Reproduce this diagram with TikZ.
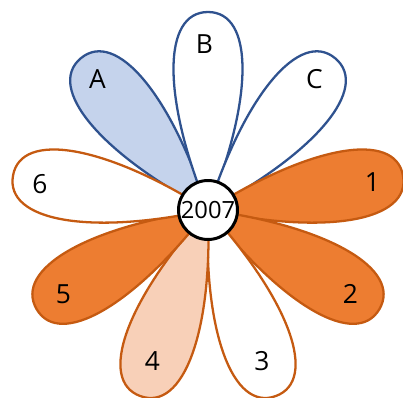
\documentclass[tikz,border=0pt]{standalone}
\usepackage{fontspec}
\setmainfont{Open Sans}
\usetikzlibrary{positioning}
\definecolor{blueline}{HTML}{2F528F}
\definecolor{bluefill}{HTML}{C5D3EC}
\definecolor{orangeline}{HTML}{C55A11}
\definecolor{orangefill}{HTML}{ED7D31}
\definecolor{peachfill}{HTML}{F8D0B8}

\begin{document}
\begin{tikzpicture}[x=0.02cm, y=0.02cm,
    petal/.style={line width=1.3pt, line join=round},
    lbl/.style={font=\fontsize{15}{17}\selectfont, inner sep=0pt},
    hub/.style={draw, circle, fill=white, line width=1.7pt, inner sep=0pt,
        minimum size=1.18cm, font=\fontsize{13.5}{15}\selectfont}]
    \useasboundingbox (-208,-187) rectangle (195,210);

    % petals: angle / outline / fill / label / label position
    \foreach \ang/\col/\fil/\txt/\nm/\pos in {
        130/blueline/bluefill/A/pA/{(-110.5,130.5)},
        90/blueline/white/B/pB/{(-3.5,165.5)},
        50/blueline/white/C/pC/{(106.5,131)},
        10/orangeline/orangefill/1/p1/{(164.5,27.5)},
        -30/orangeline/orangefill/2/p2/{(142.5,-84.3)},
        -70/orangeline/white/3/p3/{(54,-151)},
        -110/orangeline/peachfill/4/p4/{(-55.5,-151)},
        -150/orangeline/orangefill/5/p5/{(-144.5,-84.3)},
        170/orangeline/white/6/p6/{(-168,26)}}{
        \draw[petal, draw=\col, fill=\fil, rotate=\ang]
            (0,0) .. controls (112,46) and (198,46) .. (198,0)
                  .. controls (198,-46) and (112,-46) .. cycle;
        \node[lbl] (\nm) at \pos {\txt};
    }

    \node[hub] (year) at (0,0) {2007};
\end{tikzpicture}
\end{document}
